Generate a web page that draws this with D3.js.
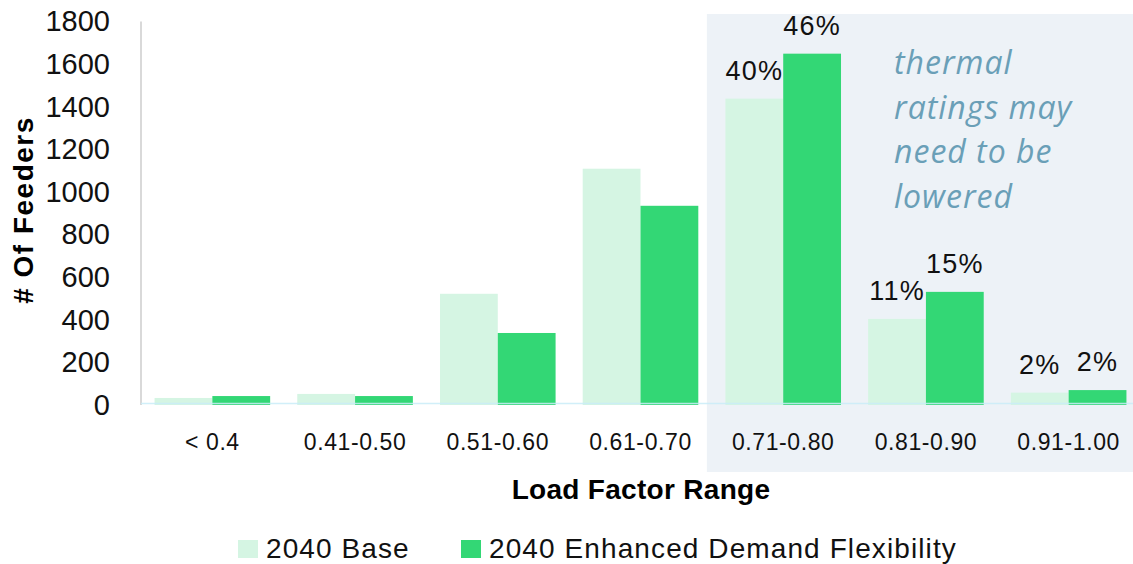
<!DOCTYPE html>
<html>
<head>
<meta charset="utf-8">
<script src="https://cdn.jsdelivr.net/npm/d3@7"></script>
<style>
  html, body { margin: 0; padding: 0; background: #ffffff; }
  svg { display: block; }
</style>
</head>
<body>
<svg id="chart" width="1133" height="564"></svg>
<script>
// Feeder counts by load factor range
const categories = ["< 0.4", "0.41-0.50", "0.51-0.60", "0.61-0.70", "0.71-0.80", "0.81-0.90", "0.91-1.00"];
const seriesNames = ["2040 Base", "2040 Enhanced Demand Flexibility"];
const baseValues = [33, 52, 522, 1109, 1438, 404, 58];
const flexValues = [42, 42, 338, 935, 1649, 531, 70];
const yTicks = [0, 200, 400, 600, 800, 1000, 1200, 1400, 1600, 1800];
// Ranges whose bars carry a share-of-total label
const labelledCategories = ["0.71-0.80", "0.81-0.90", "0.91-1.00"];
const highlightCategories = ["0.71-0.80", "0.81-0.90", "0.91-1.00"];
const noteLines = ["thermal", "ratings may", "need to be", "lowered"];

const colors = ["#d5f5e3", "#33d775"];
const seriesValues = [baseValues, flexValues];

const svg = d3.select("#chart");
const W = 1133, H = 564;

const x = d3.scaleBand().domain(categories).range([141, 1140])
  .paddingInner(0.19).paddingOuter(0.095);
const x1 = d3.scaleBand().domain(seriesNames).range([0, x.bandwidth()]);
const y = d3.scaleLinear().domain([0, 1800]).range([405, 21.5]);

// Shaded region behind the highest load-factor ranges
const hlStart = x(highlightCategories[0]) - x.step() * 0.13;
svg.append("rect")
  .attr("x", hlStart).attr("y", 14)
  .attr("width", W - hlStart).attr("height", 472 - 14)
  .attr("fill", "#edf2f7");

// Value axis line
svg.append("line")
  .attr("x1", 141).attr("x2", 141)
  .attr("y1", y(1800)).attr("y2", y(0))
  .attr("stroke", "#d9d9d9").attr("stroke-width", 2);

// Y axis tick labels
const yAxis = svg.append("g")
  .attr("transform", "translate(141,0)")
  .call(d3.axisLeft(y).tickValues(yTicks).tickSize(0).tickPadding(31).tickFormat(d3.format("d")));
yAxis.select(".domain").remove();
yAxis.selectAll("text")
  .attr("font-family", "'Liberation Sans', Arial, sans-serif")
  .attr("font-size", 29).attr("fill", "#111");

// Bars
const groups = svg.append("g").selectAll("g")
  .data(categories).join("g")
  .attr("transform", d => `translate(${x(d)},0)`);

groups.selectAll("rect")
  .data((d, i) => seriesNames.map((s, k) => ({ s, k, v: seriesValues[k][i] })))
  .join("rect")
  .attr("x", d => x1(d.s))
  .attr("width", x1.bandwidth())
  .attr("y", d => y(d.v))
  .attr("height", d => y(0) - y(d.v))
  .attr("fill", d => colors[d.k]);

// Category baseline
svg.append("line")
  .attr("x1", 141).attr("x2", W)
  .attr("y1", 403.5).attr("y2", 403.5)
  .attr("stroke", "#c9ecf8").attr("stroke-opacity", 0.85).attr("stroke-width", 1.6);

// Share-of-total labels
const totals = seriesValues.map(arr => d3.sum(arr));
const pct = d3.format(".0%");
categories.forEach((c, i) => {
  if (!labelledCategories.includes(c)) return;
  seriesNames.forEach((s, k) => {
    const v = seriesValues[k][i];
    svg.append("text")
      .attr("x", x(c) + x1(s) + x1.bandwidth() / 2)
      .attr("y", y(v) - 19)
      .attr("text-anchor", "middle")
      .attr("font-family", "'Liberation Sans', Arial, sans-serif")
      .attr("font-size", 27)
      .attr("letter-spacing", 1.2)
      .attr("fill", "#111")
      .text(pct(Math.round(v / totals[k] * 100) / 100));
  });
});

// X axis tick labels
const xAxis = svg.append("g")
  .attr("transform", `translate(0,${y(0)})`)
  .call(d3.axisBottom(x).tickSize(0).tickPadding(29));
xAxis.select(".domain").remove();
xAxis.selectAll("text")
  .attr("font-family", "'Liberation Sans', Arial, sans-serif")
  .attr("font-size", 23).attr("letter-spacing", 0.6).attr("fill", "#111");

// Axis titles
svg.append("text")
  .attr("x", 641).attr("y", 499)
  .attr("text-anchor", "middle")
  .attr("font-family", "'Liberation Sans', Arial, sans-serif")
  .attr("font-size", 28).attr("font-weight", "bold").attr("letter-spacing", 0.3)
  .attr("fill", "#000")
  .text("Load Factor Range");

svg.append("text")
  .attr("transform", "translate(33,210) rotate(-90)")
  .attr("text-anchor", "middle")
  .attr("font-family", "'Liberation Sans', Arial, sans-serif")
  .attr("font-size", 28).attr("font-weight", "bold").attr("letter-spacing", 1.5)
  .attr("fill", "#000")
  .text("# Of Feeders");

// Annotation in the shaded region
svg.append("text")
  .attr("font-family", "'Open Sans', sans-serif")
  .attr("font-style", "italic")
  .attr("font-size", 32).attr("letter-spacing", 1)
  .attr("fill", "#6a9fb7")
  .selectAll("tspan").data(noteLines).join("tspan")
  .attr("x", 894)
  .attr("y", (d, i) => 74 + i * 44.5)
  .text(d => d);

// Legend
const legendPos = [238, 461];
const legend = svg.append("g").selectAll("g")
  .data(seriesNames).join("g")
  .attr("transform", (d, i) => `translate(${legendPos[i]},0)`);
legend.append("rect")
  .attr("x", 0).attr("y", 540).attr("width", 20).attr("height", 18)
  .attr("fill", (d, i) => colors[i]);
legend.append("text")
  .attr("x", 28).attr("y", 558)
  .attr("font-family", "'Liberation Sans', Arial, sans-serif")
  .attr("font-size", 28).attr("letter-spacing", 1.1)
  .attr("fill", "#111")
  .text(d => d);
</script>
</body>
</html>
